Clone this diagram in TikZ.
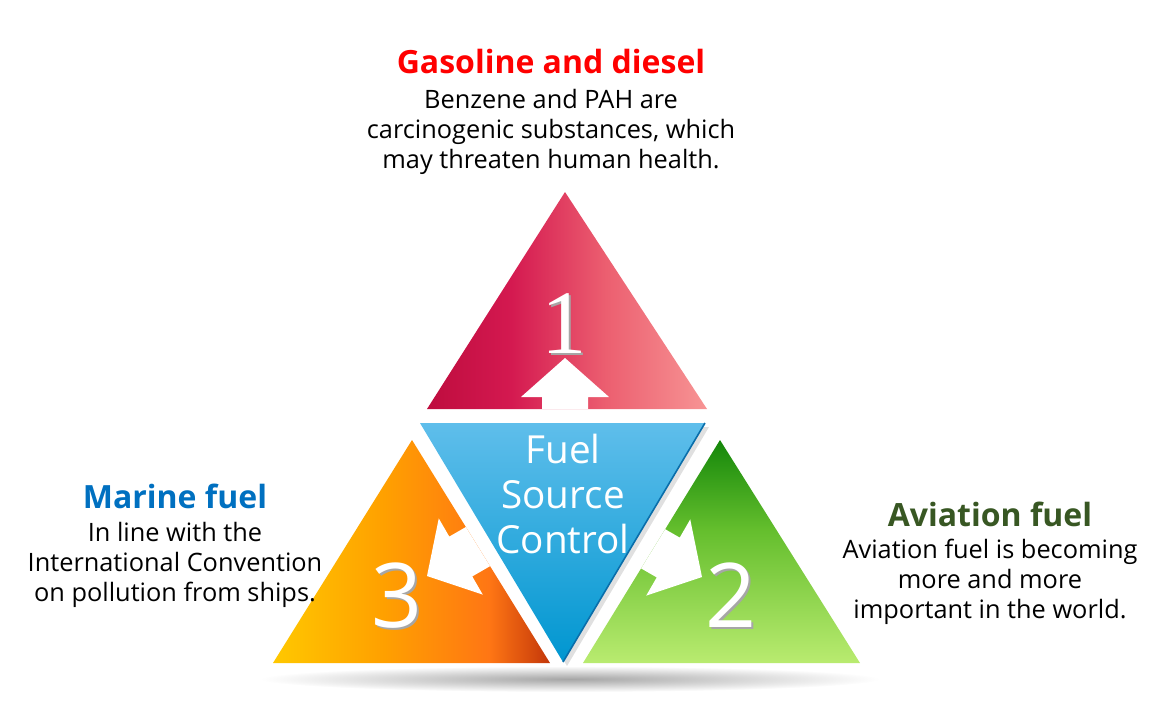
\documentclass[tikz,border=0pt]{standalone}
\usepackage{fontspec}
\setmainfont{Open Sans}
\newfontfamily\numserif{Liberation Serif}
\usepackage{xcolor}
\usepackage{tikz}

\definecolor{gasred}{RGB}{255,0,0}
\definecolor{marblue}{RGB}{0,112,192}
\definecolor{avigreen}{RGB}{56,87,35}
\definecolor{coreedge}{RGB}{10,110,170}
\definecolor{rA}{RGB}{190,12,62}
\definecolor{rB}{RGB}{212,25,80}
\definecolor{rC}{RGB}{236,95,112}
\definecolor{rD}{RGB}{247,148,148}
\definecolor{oA}{RGB}{255,200,0}
\definecolor{oB}{RGB}{255,160,0}
\definecolor{oC}{RGB}{255,118,20}
\definecolor{oD}{RGB}{195,55,10}
\definecolor{gA}{RGB}{20,135,10}
\definecolor{gB}{RGB}{100,190,45}
\definecolor{gC}{RGB}{185,235,112}
\definecolor{bA}{RGB}{95,190,235}
\definecolor{bB}{RGB}{0,150,208}

\pgfdeclarehorizontalshading{redshade}{100bp}{color(0bp)=(rA); color(25bp)=(rA); color(40bp)=(rB); color(57bp)=(rC); color(75bp)=(rD); color(100bp)=(rD)}
\pgfdeclarehorizontalshading{orangeshade}{100bp}{color(0bp)=(oA); color(25bp)=(oA); color(45bp)=(oB); color(64bp)=(oC); color(75bp)=(oD); color(100bp)=(oD)}
\pgfdeclareverticalshading{greenshade}{100bp}{color(0bp)=(gC); color(25bp)=(gC); color(55bp)=(gB); color(75bp)=(gA); color(100bp)=(gA)}
\pgfdeclareverticalshading{blueshade}{100bp}{color(0bp)=(bB); color(25bp)=(bB); color(75bp)=(bA); color(100bp)=(bA)}

\newcommand{\blockarrow}{(0,0) -- (44,39) -- (23,39) -- (23,95) -- (-23,95) -- (-23,39) -- (-44,39) -- cycle}

\begin{document}
\begin{tikzpicture}[x=0.75pt,y=-0.75pt,
  title/.style={anchor=base,inner sep=0pt,font=\fontsize{24}{28}\selectfont\bfseries},
  body/.style={anchor=base,inner sep=0pt,align=center,font=\fontsize{19}{22.5}\selectfont},
  num/.style={anchor=base,inner sep=0pt,font=\fontsize{67}{70}\selectfont}]
\useasboundingbox (0,0) rectangle (1161,701);
% floor shadow
\shade[inner color=black!35,outer color=white] (570,679) ellipse (310 and 13);
% triangles
\shade[shading=redshade] (565,192) -- (707,409) -- (427,409) -- cycle;
\shade[shading=orangeshade] (412,440) -- (550,663) -- (273,663) -- cycle;
\shade[shading=greenshade] (720,440) -- (860,663) -- (583,663) -- cycle;
\fill[black,opacity=0.12] (424,427) -- (709,427) -- (567,666) -- cycle;
\shade[shading=blueshade] (420,423) -- (705,423) -- (563,662) -- cycle;
\draw[coreedge,line width=1.2pt] (705,423) -- (563,662);
% arrows
\begin{scope}
\clip (565,192) -- (707,409) -- (427,409) -- cycle;
\fill[white,shift={(565,358)}] \blockarrow;
\end{scope}
\begin{scope}
\clip (412,440) -- (550,663) -- (273,663) -- cycle;
\fill[white,shift={(427,576)},rotate=120] \blockarrow;
\end{scope}
\begin{scope}
\clip (720,440) -- (860,663) -- (583,663) -- cycle;
\fill[white,shift={(702,577)},rotate=-120] \blockarrow;
\end{scope}
% numbers
\node[num,gray!70,font=\fontsize{68}{70}\selectfont\numserif] (oneshadow) at (566,355) {1};
\node[num,white,font=\fontsize{68}{70}\selectfont\numserif] (one) at (564,353) {1};
\node[num,gray!70] (twoshadow) at (733,629) {2};
\node[num,white] (two) at (731,627) {2};
\node[num,gray!70] (threeshadow) at (399,629) {3};
\node[num,white] (three) at (397,627) {3};
\node[anchor=base,inner sep=0pt,align=center,white,font=\fontsize{29}{33.75}\selectfont] (core) at (563,553) {Fuel\\Source\\Control};
% labels
\node[title,gasred] (gastitle) at (551,73) {Gasoline and diesel};
\node[body] (gasbody) at (551,168) {Benzene and PAH are\\carcinogenic substances, which\\may threaten human health.};
\node[title,marblue] (martitle) at (175,508) {Marine fuel};
\node[body] (marbody) at (175,601) {In line with the\\International Convention\\on pollution from ships.};
\node[title,avigreen] (avititle) at (990,526) {Aviation fuel};
\node[body] (avibody) at (990,618) {Aviation fuel is becoming\\more and more\\important in the world.};
\end{tikzpicture}
\end{document}
